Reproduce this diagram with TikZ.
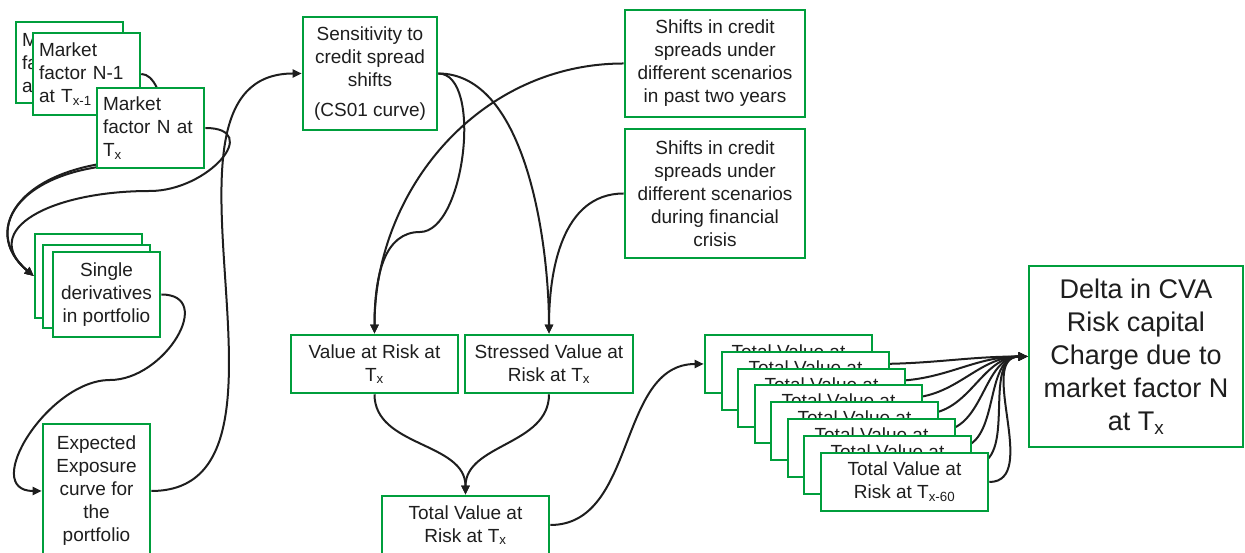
\documentclass[tikz,border=0pt]{standalone}
\usepackage{fontspec}
\setmainfont{Liberation Sans}
\usetikzlibrary{arrows.meta,backgrounds}
\definecolor{boxgreen}{RGB}{0,158,60}
\definecolor{inkgray}{RGB}{30,30,30}
\newcommand{\boxfont}{\fontsize{19}{23}\selectfont}
\newcommand{\bigboxfont}{\fontsize{27}{33}\selectfont}

\begin{document}
\begin{tikzpicture}[x=1pt,y=1pt,
    box/.style={draw=boxgreen, line width=2.6pt, fill=white, text=inkgray,
                font=\boxfont, align=center, inner sep=2pt},
    mfbox/.style={box, align=left, text width=95pt, minimum width=107pt},
    conn/.style={draw=inkgray, line width=2pt, -{Triangle[length=9pt,width=8pt]}}]
    \useasboundingbox (0,0) rectangle (1245,553);

    % Factores de mercado
    \node[mfbox, minimum height=81pt] (mf1) at (69.5,490.5) {Market\\factor\\at};
    \node[mfbox, minimum height=82pt] (mf2) at (86.5,479) {Market\\factor N-1\\at T\textsubscript{x-1}};
    \node[mfbox, minimum height=80pt] (mf3) at (150.5,425) {Market\\factor N at\\T\textsubscript{x}};

    % Derivados
    \node[box, minimum width=107pt, minimum height=84pt] (sd1) at (88.5,277) {};
    \node[box, minimum width=107pt, minimum height=83pt] (sd2) at (96.5,266.5) {};
    \node[box, minimum width=107pt, minimum height=85pt] (sd3) at (106.5,258.5) {Single\\derivatives\\in portfolio};

    \node[box, minimum width=107pt, minimum height=134pt] (ee) at (96.5,62) {Expected\\Exposure\\curve for\\the\\portfolio};

    % Sensibilidad y escenarios
    \node[box, minimum width=134pt, minimum height=113pt] (sens) at (370,479.5) {Sensitivity to\\credit spread\\shifts\\[7pt](CS01 curve)};
    \node[box, minimum width=180pt, minimum height=107pt] (shifts1) at (715,489.5) {Shifts in credit\\spreads under\\different scenarios\\in past two years};
    \node[box, minimum width=180pt, minimum height=129pt] (shifts2) at (715,359.5) {Shifts in credit\\spreads under\\different scenarios\\during financial\\crisis};

    % Valor en riesgo
    \node[box, minimum width=167pt, minimum height=58pt] (var) at (374.5,189) {Value at Risk at\\T\textsubscript{x}};
    \node[box, minimum width=168pt, minimum height=58pt] (svar) at (549,189) {Stressed Value at\\Risk at T\textsubscript{x}};
    \node[box, minimum width=167pt, minimum height=58pt] (tvar) at (465.5,28) {Total Value at\\Risk at T\textsubscript{x}};

    % Pila de escenarios
    \foreach \i/\sub in {0/x,1/x-1,2/x-2,3/x-3,4/x-4,5/x-5,6/x-6,7/x-60}
        \node[box, minimum width=167pt, minimum height=58pt] (tv\i)
            at ({788.5+round(16.5*\i)},{189-round(16.8*\i)}) {Total Value at\\Risk at T\textsubscript{\sub}};

    \node[box, font=\bigboxfont, minimum width=214pt, minimum height=181pt] (delta) at (1136,196.5) {Delta in CVA\\Risk capital\\Charge due to\\market factor N\\at T\textsubscript{x}};

    % Conectores
    \begin{pgfonlayer}{background}
        \coordinate (mfloop1) at (140,389);
        \coordinate (mfloop2) at (150,393);
        \coordinate (mfloop3) at (150,362);
        \coordinate (sdloop) at (110,173);
        \coordinate (varloop) at (420,321);

        \draw[conn] (mf1.east) .. controls +(15,0) and +(15,0) .. (mfloop1)
            .. controls +(-120,0) and +(-55,46) .. (sd1.west);
        \draw[conn] (mf2.east) .. controls +(25,0) and +(25,0) .. (mfloop2)
            .. controls +(-130,0) and +(-55,46) .. (sd1.west);
        \draw[conn] (mf3.east) .. controls +(58,0) and +(58,0) .. (mfloop3)
            .. controls +(-100,0) and +(-55,46) .. (sd1.west);

        \draw[conn] (sd3.east) .. controls +(55,0) and +(55,0) .. (sdloop)
            .. controls +(-62,0) and +(-62,0) .. (ee.west);
        \draw[conn] (ee.east) to[out=0,in=180] (sens.west);

        \draw[conn] (sens.east) .. controls +(45,0) and +(45,0) .. (varloop)
            .. controls +(-35,0) and +(0,60) .. (var.north);
        \draw[conn] (sens.east) to[out=0,in=90,looseness=0.8] (svar.north);
        \draw[conn] (shifts1.west) to[out=180,in=90] (var.north);
        \draw[conn] (shifts2.west) to[out=180,in=90] (svar.north);

        \draw[conn] (var.south) to[out=-90,in=90] (tvar.north);
        \draw[conn] (svar.south) to[out=-90,in=90] (tvar.north);
        \draw[conn] (tvar.east) to[out=0,in=180] (tv0.west);

        \foreach \i in {0,...,7}
            \draw[conn] (tv\i.east) to[out=0,in=180] (delta.west);
    \end{pgfonlayer}
\end{tikzpicture}
\end{document}
